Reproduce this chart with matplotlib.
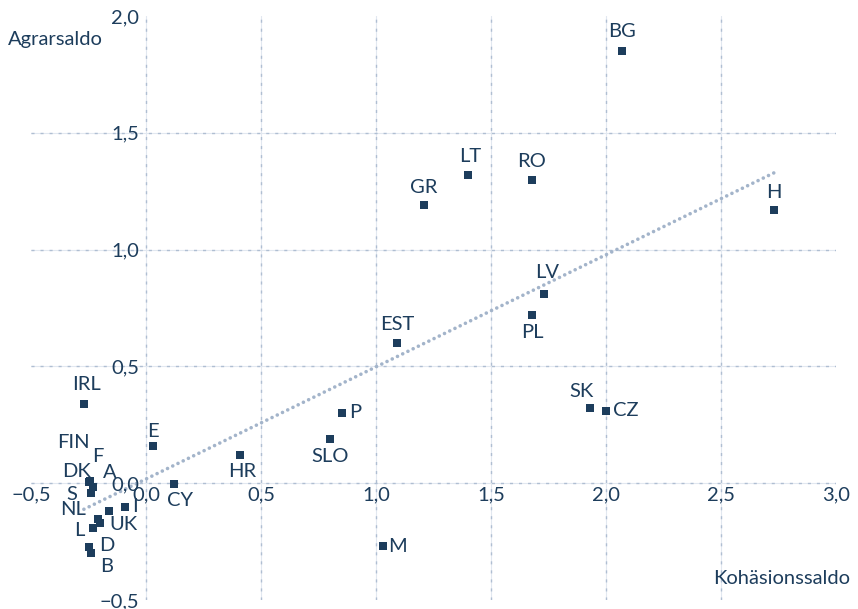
import numpy as np
import matplotlib
matplotlib.use('Agg')
import matplotlib.pyplot as plt
from matplotlib.ticker import FuncFormatter

# data
countries = ['BG', 'LT', 'RO', 'GR', 'H', 'LV', 'PL', 'EST', 'SK', 'CZ', 'P', 'SLO',
             'HR', 'M', 'CY', 'E', 'IRL', 'FIN', 'DK', 'F', 'S', 'A', 'NL', 'UK',
             'L', 'I', 'D', 'B']
kohaesion = [2.07, 1.40, 1.68, 1.21, 2.73, 1.73, 1.68, 1.09, 1.93, 2.00, 0.85, 0.80,
             0.41, 1.03, 0.12, 0.03, -0.27, -0.245, -0.25, -0.23, -0.24, -0.16, -0.21, -0.20,
             -0.23, -0.09, -0.25, -0.24]
agrar = [1.85, 1.32, 1.30, 1.19, 1.17, 0.81, 0.72, 0.60, 0.32, 0.31, 0.30, 0.19,
         0.12, -0.27, -0.005, 0.16, 0.34, 0.008, 0.004, -0.015, -0.044, -0.12, -0.153, -0.17,
         -0.19, -0.10, -0.275, -0.30]
trend_slope = 0.48
trend_intercept = 0.018

# label offsets in pixels (dx, dy)
label_offsets = {
    'BG': (0, 20), 'LT': (2, 18), 'RO': (-1, 18), 'GR': (-1, 18), 'H': (0, 17),
    'LV': (3, 21), 'PL': (0, -17), 'EST': (1, 19), 'SK': (-8, 17), 'CZ': (20, 0),
    'P': (14, 1), 'SLO': (0, -18), 'HR': (2, -16), 'M': (15, 0), 'CY': (6, -16),
    'E': (0, 14), 'IRL': (3, 19), 'FIN': (-16, 39), 'DK': (-12, 11), 'F': (5, 30),
    'S': (-19, -1), 'A': (1, 39), 'NL': (-25, 9), 'UK': (23, -2), 'L': (-14, -3),
    'I': (10, 0), 'D': (18, 2), 'B': (16, -13),
}

navy = '#1d3d5c'
grid_light = '#e2e8f0'
grid_dash = '#afbed2'
trend_col = '#a3b4ca'
fsize = 14.5

plt.rcParams['font.family'] = ['Lato', 'DejaVu Sans']

fig = plt.figure(figsize=(8.58, 6.09), dpi=100)
ax = fig.add_axes([31 / 858, 9 / 609, 805 / 858, 584 / 609])
ax.set_xlim(-0.5, 3.0)
ax.set_ylim(-0.5, 2.0)

# grid: faint solid line with short darker dashes on top
for x in [0, 0.5, 1.0, 1.5, 2.0, 2.5]:
    ax.axvline(x, color=grid_light, lw=0.8, zorder=0)
    ax.axvline(x, color=grid_dash, lw=1.0, ls=(0, (2.2, 4.3)), zorder=0)
for y in [0, 0.5, 1.0, 1.5]:
    ax.axhline(y, color=grid_light, lw=0.8, zorder=0)
    ax.axhline(y, color=grid_dash, lw=1.0, ls=(0, (2.2, 4.3)), zorder=0)

xs = np.array(kohaesion)
xl = np.array([xs.min(), xs.max()])
ax.plot(xl, trend_intercept + trend_slope * xl, color=trend_col, lw=2.6,
        ls=(0, (0.01, 1.6)), dash_capstyle='round', zorder=1)

ax.scatter(kohaesion, agrar, marker='s', s=38, color=navy, zorder=3, linewidths=0)

for name, x, y in zip(countries, kohaesion, agrar):
    dx, dy = label_offsets[name]
    ax.annotate(name, (x, y), xytext=(dx, dy), textcoords='offset pixels',
                ha='center', va='center', fontsize=fsize, color=navy, zorder=4)

for s in ['top', 'right', 'bottom', 'left']:
    ax.spines[s].set_visible(False)
ax.spines['bottom'].set_position(('data', 0))
ax.spines['left'].set_position(('data', 0))

fmt = FuncFormatter(lambda v, p: ('%.1f' % v).replace('.', ',').replace('-', '\u2212'))
ax.set_xticks([-0.5, 0, 0.5, 1.0, 1.5, 2.0, 2.5, 3.0])
ax.set_yticks([-0.5, 0, 0.5, 1.0, 1.5, 2.0])
ax.xaxis.set_major_formatter(fmt)
ax.yaxis.set_major_formatter(fmt)
ax.tick_params(length=0, labelsize=fsize, labelcolor=navy)
ax.tick_params(axis='x', pad=2)
ax.tick_params(axis='y', pad=5)

fig.text(8 / 858, 1 - 40 / 609, 'Agrarsaldo', ha='left', va='center', fontsize=fsize, color=navy)
fig.text(850 / 858, 1 - 578 / 609, 'Kohäsionssaldo', ha='right', va='center', fontsize=fsize, color=navy)

fig.savefig('out.png', dpi=100)
